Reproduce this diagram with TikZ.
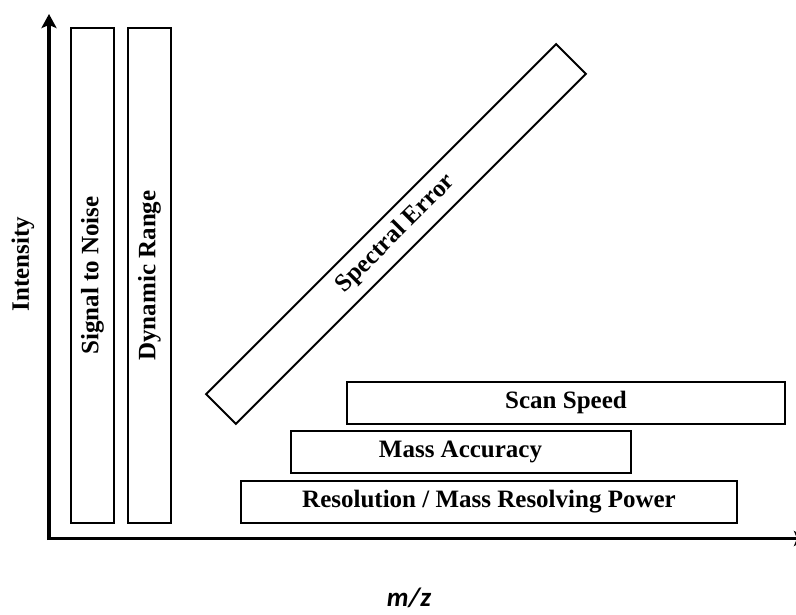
\documentclass[tikz,border=0pt]{standalone}
\usepackage{fontspec}
\setmainfont{Liberation Serif}
\newfontfamily\mzfont{Carlito}
\usetikzlibrary{arrows.meta}
\tikzset{
  bar/.style={draw=black, line width=2pt, inner sep=0pt, outer sep=0pt, font=\fontsize{25}{29}\selectfont\bfseries},
  axis/.style={line width=3.2pt, -{Stealth[length=14pt,width=15pt,inset=3pt]}},
  lbl/.style={inner sep=0pt, font=\fontsize{25}{29}\selectfont\bfseries}
}
\begin{document}
\begin{tikzpicture}[x=1pt,y=-1pt]
\useasboundingbox (0,0) rectangle (796,615);
% axes
\coordinate (o) at (49,538.5);
\coordinate (ytop) at (49,14);
\coordinate (xend) at (808,538.5);
\draw[axis] ([yshift=-1.6pt]o) -- (ytop);
\draw[axis] ([xshift=-1.6pt]o) -- (xend);
% axis labels
\node[lbl, rotate=90] (int) at (23,264) {Intensity};
\node[inner sep=0pt, font=\mzfont\fontsize{27}{31}\selectfont\bfseries\itshape] (mz) at (409,598) {m/z};
% vertical bars
\node[bar, rotate=90, minimum width=495pt, minimum height=43pt] (sn) at (92.5,275.5) {Signal to Noise};
\node[bar, rotate=90, minimum width=495pt, minimum height=43pt] (dr) at (149.5,275.5) {Dynamic Range};
% diagonal bar
\node[bar, rotate=45, minimum width=495pt, minimum height=42pt] (se) at (396,234) {Spectral Error};
% horizontal bars
\node[bar, minimum width=438pt, minimum height=42pt] (ss) at (566,402.5) {Scan Speed};
\node[bar, minimum width=340pt, minimum height=42pt] (ma) at (460.5,452) {Mass Accuracy};
\node[bar, minimum width=496pt, minimum height=42pt] (rp) at (489,502) {Resolution / Mass Resolving Power};
\end{tikzpicture}
\end{document}
